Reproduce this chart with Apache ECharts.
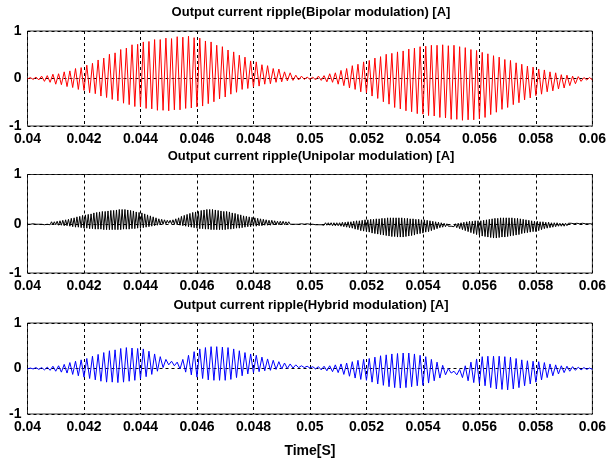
<!DOCTYPE html>
<html>
<head>
<meta charset="utf-8">
<script src="https://cdn.jsdelivr.net/npm/echarts@6/dist/echarts.min.js"></script>
<style>html,body{margin:0;padding:0;background:#fff}#c{width:609px;height:459px}</style>
</head>
<body>
<div id="c"></div>
<script>
// ---- data ----
var titles = [
  'Output current ripple(Bipolar modulation) [A]',
  'Output current ripple(Unipolar modulation) [A]',
  'Output current ripple(Hybrid modulation) [A]'
];
var xTicks = [0.04, 0.042, 0.044, 0.046, 0.048, 0.05, 0.052, 0.054, 0.056, 0.058, 0.06];
var yTicks = [-1, 0, 1];
var xLabel = 'Time[S]';
var tStart = 0.04;
var periodBipolar = 0.0002;   // switching period of the ripple (s)
var periodUnipolar = 0.0001;
var periodHybrid = 0.0002;

// per-cycle peaks (upper / lower) of the bipolar ripple
var bipolarHi = [
  0.02,0.03,0.05,0.06,0.09,0.10,0.14,0.16,0.21,0.23,
  0.28,0.32,0.39,0.43,0.51,0.54,0.61,0.64,0.71,0.72,
  0.77,0.78,0.82,0.82,0.85,0.84,0.88,0.87,0.89,0.86,
  0.85,0.79,0.77,0.70,0.67,0.60,0.56,0.49,0.45,0.37,
  0.35,0.29,0.27,0.21,0.20,0.14,0.12,0.07,0.05,0.03,
  0.03,0.05,0.06,0.10,0.12,0.17,0.21,0.27,0.30,0.35,
  0.38,0.43,0.46,0.51,0.53,0.56,0.58,0.62,0.64,0.67,
  0.68,0.70,0.70,0.71,0.69,0.70,0.67,0.65,0.61,0.59,
  0.55,0.52,0.48,0.45,0.40,0.38,0.33,0.30,0.26,0.24,
  0.20,0.18,0.14,0.12,0.08,0.07,0.05,0.04,0.02,0.02
];
var bipolarLo = [
  -0.01,-0.02,-0.03,-0.06,-0.08,-0.12,-0.13,-0.17,-0.19,-0.23,
  -0.25,-0.30,-0.32,-0.37,-0.40,-0.44,-0.47,-0.52,-0.55,-0.59,
  -0.60,-0.63,-0.64,-0.67,-0.67,-0.68,-0.66,-0.66,-0.63,-0.62,
  -0.60,-0.58,-0.53,-0.49,-0.43,-0.39,-0.33,-0.29,-0.23,-0.21,
  -0.18,-0.16,-0.12,-0.11,-0.08,-0.07,-0.05,-0.04,-0.03,-0.02,
  -0.02,-0.03,-0.04,-0.07,-0.08,-0.12,-0.15,-0.20,-0.23,-0.28,
  -0.30,-0.37,-0.42,-0.49,-0.54,-0.61,-0.64,-0.68,-0.70,-0.74,
  -0.75,-0.78,-0.79,-0.82,-0.83,-0.86,-0.86,-0.88,-0.87,-0.87,
  -0.85,-0.82,-0.76,-0.71,-0.65,-0.61,-0.55,-0.51,-0.45,-0.41,
  -0.36,-0.33,-0.28,-0.26,-0.22,-0.20,-0.15,-0.11,-0.06,-0.03
];

// per-cycle peaks of the unipolar ripple (double frequency)
var unipolarHi = [
  0.01,0.01,0.02,0.01,0.02,0.03,0.02,0.03,0.04,0.04,
  0.05,0.06,0.07,0.08,0.09,0.11,0.12,0.14,0.15,0.17,
  0.18,0.19,0.20,0.22,0.23,0.24,0.25,0.25,0.26,0.27,
  0.27,0.28,0.29,0.29,0.29,0.28,0.27,0.26,0.24,0.23,
  0.22,0.20,0.18,0.16,0.14,0.12,0.10,0.09,0.08,0.07,
  0.07,0.08,0.10,0.12,0.15,0.17,0.19,0.21,0.23,0.24,
  0.25,0.27,0.28,0.29,0.29,0.29,0.28,0.27,0.26,0.25,
  0.25,0.24,0.22,0.21,0.19,0.18,0.16,0.15,0.14,0.13,
  0.12,0.11,0.10,0.09,0.08,0.07,0.07,0.06,0.05,0.05,
  0.05,0.04,0.04,0.03,0.03,0.02,0.02,0.02,0.01,0.01,
  0.01,0.01,0.01,0.01,0.02,0.02,0.02,0.02,0.02,0.02,
  0.02,0.03,0.03,0.04,0.04,0.05,0.06,0.06,0.07,0.08,
  0.08,0.09,0.09,0.10,0.10,0.11,0.11,0.12,0.12,0.12,
  0.12,0.12,0.12,0.11,0.11,0.10,0.10,0.09,0.09,0.08,
  0.08,0.07,0.06,0.05,0.04,0.03,0.02,0.01,0.00,-0.01,
  -0.01,0.00,0.01,0.02,0.03,0.04,0.05,0.05,0.06,0.06,
  0.06,0.07,0.08,0.09,0.10,0.11,0.11,0.12,0.12,0.12,
  0.12,0.12,0.11,0.11,0.10,0.09,0.08,0.07,0.06,0.05,
  0.05,0.04,0.04,0.03,0.03,0.02,0.02,0.02,0.01,0.01,
  0.01,0.01,0.01,0.00,0.01,0.00,0.01,0.00,0.00,0.00
];
var unipolarLo = [
  -0.01,-0.01,0.00,-0.01,-0.01,-0.01,-0.02,-0.01,-0.02,-0.02,
  -0.02,-0.03,-0.03,-0.04,-0.04,-0.05,-0.06,-0.07,-0.07,-0.08,
  -0.09,-0.09,-0.10,-0.10,-0.11,-0.11,-0.11,-0.12,-0.12,-0.12,
  -0.12,-0.12,-0.12,-0.12,-0.11,-0.11,-0.11,-0.10,-0.10,-0.09,
  -0.09,-0.08,-0.07,-0.06,-0.05,-0.04,-0.03,-0.02,-0.01,0.00,
  0.01,0.00,-0.01,-0.02,-0.03,-0.04,-0.05,-0.06,-0.07,-0.08,
  -0.09,-0.10,-0.10,-0.11,-0.11,-0.12,-0.12,-0.12,-0.12,-0.12,
  -0.12,-0.11,-0.11,-0.10,-0.09,-0.09,-0.08,-0.07,-0.06,-0.06,
  -0.05,-0.05,-0.04,-0.04,-0.03,-0.03,-0.03,-0.02,-0.02,-0.02,
  -0.02,-0.02,-0.01,-0.01,-0.01,-0.01,-0.01,0.00,-0.01,0.00,
  -0.01,-0.01,-0.02,-0.02,-0.02,-0.03,-0.03,-0.03,-0.04,-0.04,
  -0.04,-0.05,-0.06,-0.07,-0.08,-0.09,-0.11,-0.12,-0.14,-0.15,
  -0.16,-0.17,-0.19,-0.20,-0.21,-0.22,-0.23,-0.24,-0.25,-0.26,
  -0.26,-0.27,-0.27,-0.27,-0.26,-0.25,-0.24,-0.23,-0.21,-0.20,
  -0.19,-0.17,-0.16,-0.14,-0.12,-0.10,-0.08,-0.07,-0.06,-0.05,
  -0.05,-0.06,-0.08,-0.10,-0.12,-0.14,-0.16,-0.18,-0.20,-0.22,
  -0.23,-0.25,-0.26,-0.27,-0.28,-0.29,-0.29,-0.28,-0.27,-0.27,
  -0.26,-0.25,-0.24,-0.23,-0.22,-0.20,-0.19,-0.18,-0.17,-0.16,
  -0.16,-0.14,-0.12,-0.10,-0.09,-0.08,-0.07,-0.06,-0.05,-0.05,
  -0.05,-0.04,-0.03,-0.03,-0.02,-0.02,-0.02,-0.01,-0.01,-0.01
];

// per-cycle peaks of the hybrid ripple
var hybridHi = [
  0.01,0.02,0.02,0.03,0.05,0.06,0.09,0.13,0.16,0.19,
  0.22,0.27,0.31,0.35,0.39,0.41,0.44,0.46,0.45,0.44,
  0.43,0.38,0.32,0.26,0.20,0.16,0.14,0.20,0.29,0.37,
  0.43,0.46,0.48,0.48,0.47,0.46,0.43,0.39,0.35,0.32,
  0.29,0.25,0.21,0.18,0.15,0.12,0.10,0.08,0.06,0.05,
  0.04,0.04,0.05,0.06,0.08,0.10,0.12,0.15,0.18,0.20,
  0.22,0.25,0.28,0.30,0.32,0.33,0.34,0.34,0.32,0.29,
  0.26,0.20,0.14,0.07,0.00,-0.06,-0.02,0.06,0.14,0.21,
  0.26,0.27,0.27,0.27,0.26,0.25,0.22,0.19,0.17,0.16,
  0.15,0.13,0.10,0.08,0.06,0.05,0.04,0.03,0.02,0.01
];
var hybridLo = [
  -0.01,-0.01,-0.02,-0.03,-0.04,-0.06,-0.08,-0.10,-0.13,-0.16,
  -0.19,-0.22,-0.25,-0.28,-0.30,-0.30,-0.31,-0.30,-0.28,-0.26,
  -0.23,-0.18,-0.13,-0.06,0.02,0.08,0.06,-0.01,-0.08,-0.14,
  -0.19,-0.22,-0.25,-0.26,-0.26,-0.26,-0.24,-0.20,-0.16,-0.12,
  -0.09,-0.07,-0.05,-0.04,-0.02,-0.01,0.00,0.01,0.02,0.02,
  0.01,-0.01,-0.03,-0.05,-0.07,-0.09,-0.13,-0.17,-0.21,-0.24,
  -0.26,-0.30,-0.34,-0.37,-0.40,-0.42,-0.43,-0.42,-0.40,-0.38,
  -0.37,-0.32,-0.27,-0.21,-0.14,-0.10,-0.14,-0.20,-0.27,-0.31,
  -0.33,-0.38,-0.42,-0.45,-0.46,-0.47,-0.45,-0.42,-0.38,-0.34,
  -0.30,-0.25,-0.20,-0.16,-0.12,-0.09,-0.06,-0.04,-0.03,-0.02
];

// ---- build the ripple polylines: a low then a high point per switching cycle ----
function ripple(hi, lo, period) {
  var pts = [];
  for (var k = 0; k < hi.length; k++) {
    pts.push([tStart + k * period, lo[k]]);
    pts.push([tStart + (k + 0.5) * period, hi[k]]);
  }
  pts.push([tStart + hi.length * period, lo[lo.length - 1]]);
  return pts;
}

var colors = ['#ff0000', '#000000', '#0000ff'];
var grids = [
  { left: 27.5, right: 14, top: 31, height: 95 },
  { left: 27.5, right: 14, top: 174.5, height: 98.5 },
  { left: 27.5, right: 14, top: 323, height: 97 }
];
var titleTops = [6, 150, 299];
var FONT = '"Liberation Sans", Arial, sans-serif';

function fmtX(v) { return String(+(+v).toFixed(3)); }

var option = {
  animation: false,
  backgroundColor: '#fff',
  title: titles.map(function (t, i) {
    return { text: t, left: 311, top: titleTops[i], textAlign: 'center', padding: 0,
      textStyle: { fontFamily: FONT, fontSize: 13, fontWeight: 'bold', color: '#000' } };
  }),
  grid: grids.map(function (g) {
    return Object.assign({ show: true, borderColor: '#333', borderWidth: 1, backgroundColor: '#fff' }, g);
  }),
  xAxis: [0, 1, 2].map(function (i) {
    return {
      type: 'value', gridIndex: i, min: xTicks[0], max: xTicks[xTicks.length - 1],
      interval: 0.002,
      name: i === 2 ? xLabel : '', nameLocation: 'middle', nameGap: 30,
      nameTextStyle: { fontFamily: FONT, fontSize: 14, fontWeight: 'bold', color: '#000' },
      axisLine: { show: false }, axisTick: { show: false },
      axisLabel: { formatter: fmtX, fontFamily: FONT, fontSize: 14, fontWeight: 'bold', color: '#000', margin: 6,
        showMinLabel: true, showMaxLabel: true },
      splitLine: { show: true, lineStyle: { color: '#000', type: [3, 3], width: 1 } }
    };
  }),
  yAxis: [0, 1, 2].map(function (i) {
    return {
      type: 'value', gridIndex: i, min: yTicks[0], max: yTicks[yTicks.length - 1], interval: 1,
      axisLine: { show: false }, axisTick: { show: false },
      axisLabel: { fontFamily: FONT, fontSize: 14, fontWeight: 'bold', color: '#000', margin: 6 },
      splitLine: { show: true, lineStyle: { color: '#000', type: [3, 3], width: 1 } }
    };
  }),
  series: [
    ripple(bipolarHi, bipolarLo, periodBipolar),
    ripple(unipolarHi, unipolarLo, periodUnipolar),
    ripple(hybridHi, hybridLo, periodHybrid)
  ].map(function (d, i) {
    return { type: 'line', xAxisIndex: i, yAxisIndex: i, data: d, showSymbol: false, symbol: 'none',
      sampling: null, lineStyle: { color: colors[i], width: 1 }, z: 3 };
  })
};

var chart = echarts.init(document.getElementById('c'), null, { renderer: 'canvas' });
chart.setOption(option);
</script>
</body>
</html>
